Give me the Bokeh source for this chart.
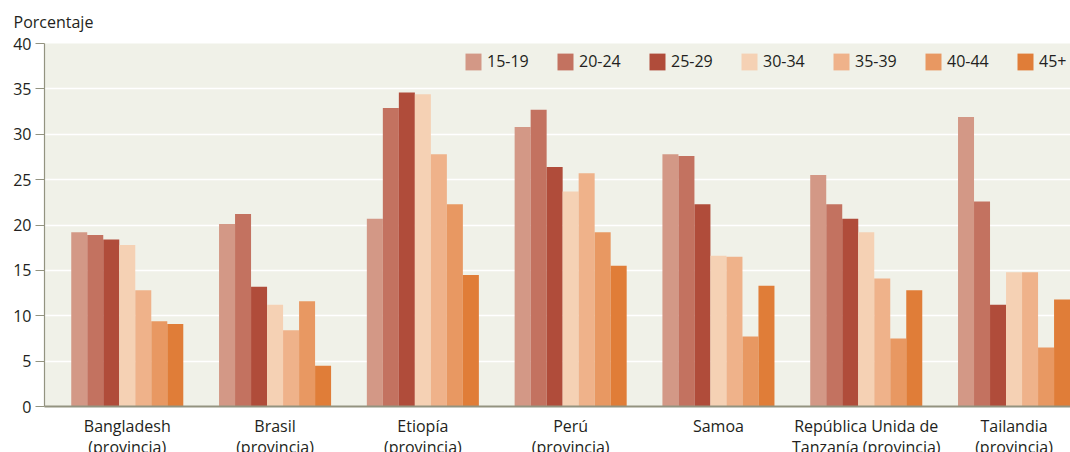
from bokeh.plotting import figure
from bokeh.layouts import column
from bokeh.models import Range1d, ColumnDataSource, FixedTicker
from bokeh.transform import dodge
from bokeh.core.properties import value
from bokeh.embed import file_html
from bokeh.resources import INLINE

# ---------------- data ----------------
categories = ["Bangladesh\n(provincia)", "Brasil\n(provincia)", "Etiopía\n(provincia)",
              "Perú\n(provincia)", "Samoa", "República Unida de\nTanzanía (provincia)",
              "Tailandia\n(provincia)"]
age_groups = ["15-19", "20-24", "25-29", "30-34", "35-39", "40-44", "45+"]
v_15_19 = [19.2, 20.1, 20.7, 30.8, 27.8, 25.5, 31.9]
v_20_24 = [18.9, 21.2, 32.9, 32.7, 27.6, 22.3, 22.6]
v_25_29 = [18.4, 13.2, 34.6, 26.4, 22.3, 20.7, 11.2]
v_30_34 = [17.8, 11.2, 34.4, 23.7, 16.6, 19.2, 14.8]
v_35_39 = [12.8, 8.4, 27.8, 25.7, 16.5, 14.1, 14.8]
v_40_44 = [9.4, 11.6, 22.3, 19.2, 7.7, 7.5, 6.5]
v_45 = [9.1, 4.5, 14.5, 15.5, 13.3, 12.8, 11.8]
series = [v_15_19, v_20_24, v_25_29, v_30_34, v_35_39, v_40_44, v_45]
y_ticks = [0, 5, 10, 15, 20, 25, 30, 35, 40]
y_title = "Porcentaje"

colors = ["#D39886", "#C37260", "#B04C3A", "#F5D1B4", "#EFB28A", "#E89862", "#E07D38"]
FONT = "Open Sans"
TXT = "#231F20"
AXIS = "#939380"
BG = "#F0F1E8"
W = 1070

idx = list(range(len(categories)))
data = {"x": idx}
for g, s in zip(age_groups, series):
    data[g] = s
src = ColumnDataSource(data)

# ---------- top strip: axis title ----------
top = figure(width=W, height=33, output_backend="svg", toolbar_location=None, title=None,
             x_axis_location=None, y_axis_location=None,
             x_range=Range1d(0, W), y_range=Range1d(-33, 0),
             min_border_left=0, min_border_right=0, min_border_top=0, min_border_bottom=0,
             background_fill_color="white", border_fill_color="white", outline_line_color=None)
top.frame_align = False
top.grid.visible = False
top.text(x=13, y=-10, text=value(y_title), text_align="left", text_baseline="top",
         text_font=value(FONT), text_font_size="16px", text_color=TXT)

# ---------- main chart ----------
xr = Range1d(-0.56, 6.382)
p = figure(width=W, height=380, output_backend="svg", toolbar_location=None,
           x_range=xr, y_range=Range1d(0, 40),
           min_border_left=44, min_border_right=0, min_border_top=10, min_border_bottom=7,
           background_fill_color=BG, border_fill_color="white", outline_line_color=None)

bw = 0.1083
for k, (g, c) in enumerate(zip(age_groups, colors)):
    p.vbar(x=dodge("x", (k - 3) * bw, range=xr), top=g, width=bw, source=src,
           fill_color=c, line_color=None, legend_label=g)

p.xaxis.ticker = FixedTicker(ticks=[])
p.xaxis.axis_line_color = AXIS
p.xaxis.axis_line_width = 2
p.xaxis.major_tick_line_color = None
p.xaxis.major_tick_out = 0
p.xaxis.major_tick_in = 0
p.xaxis.minor_tick_line_color = None

p.yaxis.ticker = FixedTicker(ticks=y_ticks)
p.yaxis.axis_line_color = AXIS
p.yaxis.axis_line_width = 1.2
p.yaxis.major_tick_line_color = AXIS
p.yaxis.major_tick_out = 9
p.yaxis.major_tick_in = 0
p.yaxis.minor_tick_line_color = None
p.yaxis.major_label_standoff = 4
p.yaxis.major_label_text_font = FONT
p.yaxis.major_label_text_font_size = "16px"
p.yaxis.major_label_text_color = TXT

p.xgrid.visible = False
p.ygrid.grid_line_color = "white"
p.ygrid.grid_line_width = 1.6

leg = p.legend[0]
leg.orientation = "horizontal"
leg.location = (419, 334)
leg.glyph_width = 20
leg.glyph_height = 21
leg.label_standoff = 4
leg.label_width = 42
leg.spacing = 26
leg.padding = 0
leg.margin = 0
leg.background_fill_alpha = 0
leg.border_line_color = None
leg.label_text_font = FONT
leg.label_text_font_size = "16px"
leg.label_text_color = TXT

# ---------- bottom strip: category labels (same x scale) ----------
lab_src = ColumnDataSource({"x": idx, "text": categories})
q = figure(width=W, height=39, output_backend="svg", toolbar_location=None, title=None,
           x_axis_location=None, y_axis_location=None,
           x_range=xr, y_range=Range1d(-39, 0),
           min_border_left=44, min_border_right=0, min_border_top=0, min_border_bottom=0,
           background_fill_color="white", border_fill_color="white", outline_line_color=None)
q.grid.visible = False
q.text(x="x", y=-1, text="text", source=lab_src, text_align="center", text_baseline="top",
       text_font=value(FONT), text_font_size="16px", text_color=TXT, text_line_height=0.97)

layout = column(top, p, q, spacing=0)
open("out.html", "w").write(file_html(layout, INLINE))
